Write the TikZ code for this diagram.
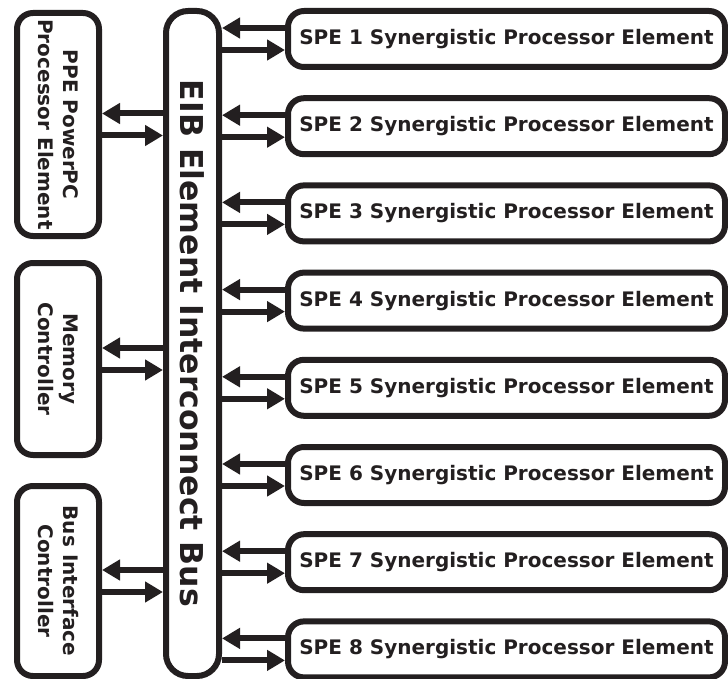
\documentclass[tikz,border=0pt]{standalone}
\usepackage{fontspec}
\setmainfont{DejaVu Sans}
\usetikzlibrary{arrows.meta}
\definecolor{ink}{HTML}{231F20}
\begin{document}
\begin{tikzpicture}[x=1pt,y=1pt,
  box/.style={draw=ink, line width=6pt, rounded corners=16pt, inner sep=0pt},
  spebox/.style={box, minimum width=437pt, minimum height=56pt,
    text=ink, font=\bfseries\fontsize{20}{24}\selectfont},
  sidebox/.style={box, minimum width=82pt},
  vlabel/.style={rotate=-90, align=center, text=ink,
    font=\bfseries\fontsize{20}{25}\selectfont},
  link/.style={draw=ink, line width=6pt, -{Triangle[length=18pt,width=20pt]}},
]
\useasboundingbox (0,0) rectangle (728,-679);

% the element interconnect bus
\node[box, minimum width=53pt, minimum height=665pt, rounded corners=22pt]
  (bus) at (192.5,-343.5) {};
\node[vlabel, font=\bfseries\fontsize{31.5}{36}\selectfont]
  (bustext) at (bus.center) {EIB Element Interconnect Bus};

% units on the left of the bus
\node[sidebox, minimum height=223pt] (ppe) at (58,-124.5) {};
\node[vlabel] (ppetext) at (ppe.center) {PPE PowerPC\\Processor Element};
\node[sidebox, minimum height=192pt] (mem) at (58,-359) {};
\node[vlabel] (memtext) at (mem.center) {Memory\\Controller};
\node[sidebox, minimum height=190pt] (bic) at (58,-581) {};
\node[vlabel] (bictext) at (bic.center) {Bus Interface\\Controller};

\foreach \u in {ppe,mem,bic} {
  \draw[link] ([yshift=11pt]\u.east -| bus.west) -- ([yshift=11pt]\u.east);
  \draw[link] ([yshift=-11pt]\u.east) -- ([yshift=-11pt]\u.east -| bus.west);
}

% the eight synergistic processor elements
\foreach \i in {1,...,8} {
  \node[spebox] (spe\i) at (506.5,{-39-87.2*(\i-1)})
    {SPE \i\ Synergistic Processor Element};
  \draw[link] ([yshift=11pt]spe\i.west) -- ([yshift=11pt]spe\i.west -| bus.east);
  \draw[link] ([yshift=-11pt]spe\i.west -| bus.east) -- ([yshift=-11pt]spe\i.west);
}
\end{tikzpicture}
\end{document}
